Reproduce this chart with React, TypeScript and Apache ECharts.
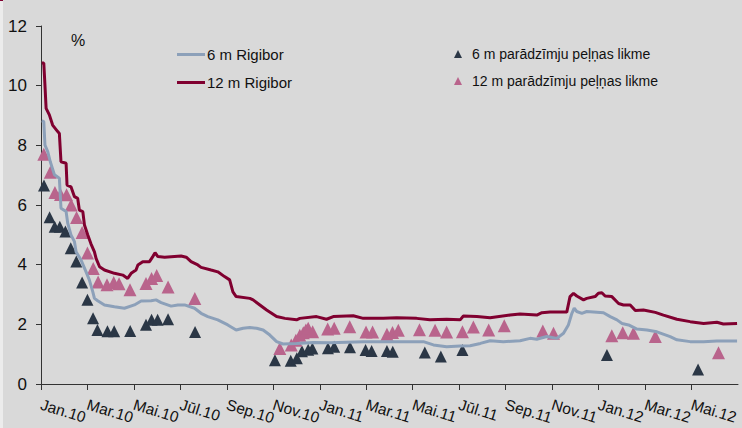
import React, { useEffect, useRef } from "react";
import * as echarts from "echarts";

// x = months since 1 Jan 2010 (fractional), y = percent
const xTickLabels = [
  "Jan.10", "Mar.10", "Mai.10", "Jūl.10", "Sep.10", "Nov.10",
  "Jan.11", "Mar.11", "Mai.11", "Jūl.11", "Sep.11", "Nov.11",
  "Jan.12", "Mar.12", "Mai.12",
];

const rigibor6m: [number, number][] = [
  [0.03, 8.82], [0.12, 8.8], [0.17, 8.01], [0.29, 7.79], [0.4, 7.45], [0.58, 7.01],
  [0.79, 6.9], [0.86, 5.89], [1.08, 5.78], [1.15, 5.39], [1.29, 5.0], [1.44, 4.77],
  [1.51, 4.43], [1.72, 4.16], [1.94, 3.76], [2.08, 3.49], [2.23, 3.09], [2.3, 2.87],
  [2.44, 2.79], [2.73, 2.65], [3.16, 2.59], [3.59, 2.54], [4.02, 2.65], [4.31, 2.78],
  [4.74, 2.79], [4.95, 2.82], [5.17, 2.73], [5.6, 2.61], [5.89, 2.65], [6.18, 2.65],
  [6.61, 2.54], [6.89, 2.37], [7.18, 2.26], [7.61, 2.15], [8.04, 1.98], [8.4, 1.81],
  [8.7, 1.87], [8.99, 1.89], [9.28, 1.87], [9.56, 1.81], [9.85, 1.64], [10.14, 1.42],
  [10.42, 1.34], [11.0, 1.36], [11.72, 1.39], [12.44, 1.38], [13.87, 1.42], [15.31, 1.42],
  [16.46, 1.42], [16.89, 1.31], [17.46, 1.25], [18.04, 1.27], [18.47, 1.28], [18.91, 1.36],
  [19.33, 1.45], [19.9, 1.42], [20.62, 1.45], [21.05, 1.53], [21.34, 1.5], [21.77, 1.59],
  [22.2, 1.53], [22.49, 1.7], [22.7, 1.98], [22.85, 2.37], [22.95, 2.54], [23.06, 2.43],
  [23.28, 2.37], [23.49, 2.43], [24.21, 2.39], [24.5, 2.26], [24.79, 2.15], [25.01, 2.03],
  [25.29, 1.98], [25.65, 1.84], [26.08, 1.81], [26.51, 1.75], [27.08, 1.59], [27.37, 1.48],
  [27.94, 1.42], [28.52, 1.42], [29.09, 1.44], [29.96, 1.44],
];

const rigibor12m: [number, number][] = [
  [0.03, 10.76], [0.12, 10.76], [0.17, 10.02], [0.22, 9.24], [0.36, 9.02], [0.5, 8.68],
  [0.72, 8.46], [0.79, 8.4], [0.86, 7.45], [1.08, 7.4], [1.12, 6.67], [1.29, 6.61],
  [1.44, 6.28], [1.58, 6.22], [1.65, 5.83], [1.8, 5.78], [1.87, 5.33], [2.01, 5.0],
  [2.15, 4.7], [2.3, 4.43], [2.37, 4.21], [2.52, 3.93], [2.73, 3.82], [3.16, 3.71],
  [3.52, 3.65], [3.73, 3.54], [3.88, 3.71], [4.09, 3.82], [4.17, 3.99], [4.38, 4.1],
  [4.67, 4.1], [4.81, 4.27], [4.91, 4.4], [5.03, 4.27], [5.32, 4.25], [6.03, 4.29],
  [6.25, 4.25], [6.46, 4.1], [6.75, 3.99], [6.89, 3.91], [7.32, 3.82], [7.61, 3.76],
  [7.9, 3.6], [8.12, 3.49], [8.26, 3.09], [8.4, 2.93], [8.99, 2.87], [9.13, 2.82],
  [9.42, 2.65], [9.71, 2.48], [10.14, 2.26], [10.5, 2.2], [11.0, 2.15], [11.14, 2.2],
  [11.86, 2.26], [12.29, 2.17], [12.58, 2.26], [13.44, 2.29], [13.87, 2.2], [14.73, 2.2],
  [15.31, 2.22], [16.17, 2.2], [16.74, 2.15], [17.46, 2.17], [18.04, 2.15], [18.18, 2.28],
  [18.76, 2.26], [19.33, 2.22], [20.19, 2.31], [20.62, 2.35], [21.34, 2.31], [21.56, 2.39],
  [21.91, 2.41], [22.63, 2.41], [22.77, 2.93], [22.92, 3.04], [23.06, 2.95], [23.35, 2.82],
  [23.49, 2.87], [23.85, 2.93], [23.99, 3.04], [24.14, 3.06], [24.28, 2.95], [24.57, 2.93],
  [24.86, 2.7], [25.07, 2.65], [25.36, 2.65], [25.58, 2.46], [25.93, 2.48], [26.44, 2.4],
  [26.79, 2.31], [27.37, 2.17], [27.94, 2.09], [28.52, 2.03], [29.09, 2.07], [29.37, 2.01],
  [29.96, 2.03],
];

const bills6m: [number, number][] = [
  [0.13, 6.65], [0.37, 5.59], [0.59, 5.27], [0.81, 5.27], [1.05, 5.11], [1.28, 4.55],
  [1.52, 4.11], [1.77, 3.4], [2.0, 2.82], [2.24, 2.2], [2.43, 1.81], [2.86, 1.77],
  [3.15, 1.77], [3.84, 1.78], [4.52, 1.99], [4.76, 2.15], [5.02, 2.15], [5.47, 2.17],
  [6.63, 1.74], [10.07, 0.8], [10.75, 0.78], [11.01, 0.86], [11.23, 1.1], [11.5, 1.15],
  [11.68, 1.19], [12.35, 1.2], [12.62, 1.25], [13.3, 1.23], [13.97, 1.14], [14.23, 1.11],
  [14.89, 1.11], [15.14, 1.08], [16.52, 1.06], [17.21, 0.92], [18.14, 1.14], [24.36, 0.97],
  [28.28, 0.49],
];

const bills12m: [number, number][] = [
  [0.12, 7.7], [0.4, 7.1], [0.6, 6.42], [0.84, 6.35], [1.1, 6.34], [1.3, 6.0],
  [1.53, 5.58], [1.77, 5.08], [2.0, 4.39], [2.25, 3.87], [2.46, 3.42], [2.84, 3.33],
  [3.13, 3.4], [3.36, 3.36], [3.83, 3.16], [4.52, 3.37], [4.76, 3.54], [4.98, 3.64],
  [5.47, 3.25], [6.62, 2.87], [10.28, 1.19], [10.77, 1.31], [10.97, 1.47], [11.14, 1.63],
  [11.29, 1.72], [11.4, 1.81], [11.5, 1.87], [11.69, 1.75], [12.34, 1.84], [12.62, 1.87],
  [13.29, 1.92], [13.99, 1.74], [14.27, 1.74], [14.89, 1.67], [15.13, 1.73], [15.38, 1.8],
  [16.29, 1.82], [16.96, 1.8], [17.46, 1.74], [18.14, 1.75], [18.61, 1.91], [19.27, 1.81],
  [19.94, 1.95], [21.6, 1.78], [22.06, 1.7], [24.57, 1.62], [25.04, 1.72], [25.5, 1.7],
  [26.44, 1.59], [29.16, 1.05],
];

const FONT = "'Liberation Sans', Arial, sans-serif";
const tickValues = xTickLabels.map((_, i) => i * 2);
const labelsA = tickValues.filter((v) => v % 4 === 0);
const labelsB = tickValues.filter((v) => v % 4 === 2);

const labelStyle = (values: number[]) => ({
  show: true,
  rotate: -17, margin: 20, fontSize: 15.5, color: "#111", fontFamily: FONT,
  showMinLabel: true, showMaxLabel: true, hideOverlap: false,
  customValues: values,
  formatter: (v: number) => xTickLabels[Math.round(v / 2)] ?? "",
});

export default function App() {
  const ref = useRef<HTMLDivElement>(null);
  useEffect(() => {
    if (!ref.current) return;
    const chart = echarts.init(ref.current, null, { renderer: "svg" });
    chart.setOption({
      animation: false,
      backgroundColor: "#d9d9d9",
      textStyle: { fontFamily: FONT },
      grid: {
        left: 41, right: 4, top: 26, bottom: 44,
        containLabel: false, outerBoundsMode: "none",
      },
      graphic: [
        { type: "rect", left: 0, top: 0, shape: { width: 3, height: 428 }, style: { fill: "#ececec" } },
        { type: "rect", left: 0, top: 0, shape: { width: 3, height: 1 }, style: { fill: "#800030" } },
        {
          type: "text", left: 71, top: 32,
          style: { text: "%", fontSize: 16, fill: "#111", fontFamily: FONT },
        },
      ],
      legend: [
        {
          data: ["6 m Rigibor", "12 m Rigibor"],
          orient: "vertical", left: 172, top: 42,
          icon: "rect", itemWidth: 28, itemHeight: 3, itemGap: 13,
          textStyle: { fontSize: 15, color: "#111", fontFamily: FONT, padding: [0, 0, 0, -3] },
        },
        {
          data: ["6 m parādzīmju peļņas likme", "12 m parādzīmju peļņas likme"],
          orient: "vertical", left: 449, top: 42,
          icon: "triangle", itemWidth: 8, itemHeight: 8, itemGap: 13,
          textStyle: { fontSize: 14, color: "#111", fontFamily: FONT, padding: [0, 0, 0, 5] },
        },
      ],
      xAxis: [
        {
          type: "value", min: 0, max: 30, interval: 2, position: "bottom", offset: 0,
          axisLine: { show: true, lineStyle: { color: "#333", width: 1 } },
          axisTick: { show: true, length: 6, lineStyle: { color: "#333" }, customValues: tickValues },
          axisLabel: labelStyle(labelsA),
          splitLine: { show: false },
        },
        {
          type: "value", min: 0, max: 30, interval: 2, position: "bottom", offset: 0,
          axisLine: { show: false },
          axisTick: { show: false },
          axisLabel: labelStyle(labelsB),
          splitLine: { show: false },
        },
      ],
      yAxis: {
        type: "value", min: 0, max: 12, interval: 2,
        axisLine: { show: true, lineStyle: { color: "#333", width: 1 } },
        axisTick: { show: true, length: 5, lineStyle: { color: "#333" } },
        axisLabel: { fontSize: 17, color: "#111", margin: 14, fontFamily: FONT },
        splitLine: { show: false },
      },
      series: [
        {
          name: "6 m Rigibor", type: "line", data: rigibor6m, showSymbol: false,
          lineStyle: { color: "#8ca0b9", width: 3 }, itemStyle: { color: "#8ca0b9" },
        },
        {
          name: "12 m Rigibor", type: "line", data: rigibor12m, showSymbol: false,
          lineStyle: { color: "#800030", width: 3 }, itemStyle: { color: "#800030" },
        },
        {
          name: "6 m parādzīmju peļņas likme", type: "scatter", data: bills6m,
          symbol: "triangle", symbolSize: 12, itemStyle: { color: "#2b3746", opacity: 1 },
        },
        {
          name: "12 m parādzīmju peļņas likme", type: "scatter", data: bills12m,
          symbol: "triangle", symbolSize: 13, itemStyle: { color: "#b9648c", opacity: 1 },
        },
      ],
    });
    return () => chart.dispose();
  }, []);
  return (
    <div
      ref={ref}
      style={{ position: "fixed", left: 0, top: 0, width: 742, height: 428 }}
    />
  );
}
